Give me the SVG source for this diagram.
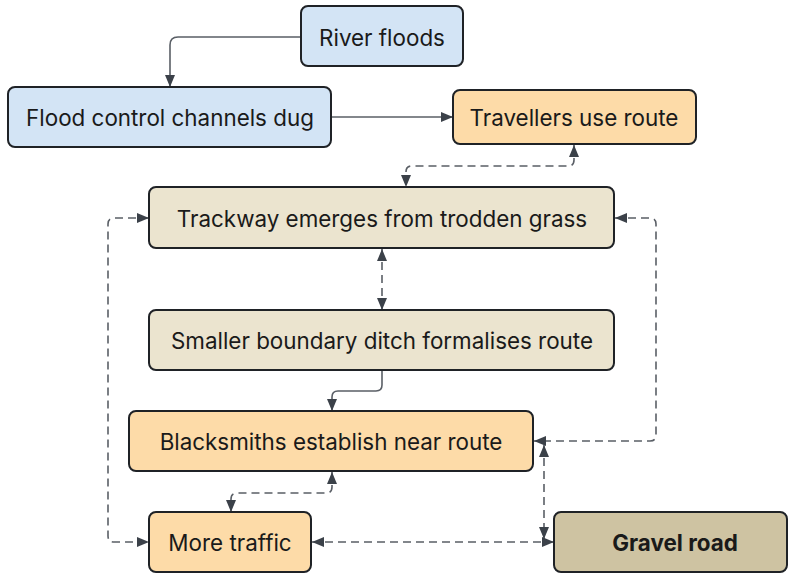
<svg xmlns="http://www.w3.org/2000/svg" width="789" height="574" viewBox="0 0 789 574">
<defs>
<style>
.box{stroke:#1f2226;stroke-width:2}
.blue{fill:#d3e4f5}
.orange{fill:#fddba8}
.beige{fill:#ebe4cf}
.tan{fill:#cec3a2}
.t{font-family:Inter,"Liberation Sans",sans-serif;font-size:22.4px;fill:#1a1a1a;text-anchor:middle;dominant-baseline:central}
.b{font-weight:700}
.solid{fill:none;stroke:#5a5f66;stroke-width:1.6}
.dash{fill:none;stroke:#5a5f66;stroke-width:1.6;stroke-dasharray:8 5}
</style>
<marker id="ar" viewBox="0 0 12 10" refX="12" refY="5" markerWidth="12" markerHeight="10" markerUnits="userSpaceOnUse" orient="auto-start-reverse">
<path d="M0,0 L12,5 L0,10 Z" fill="#3b4149"/>
</marker>
</defs>
<rect width="789" height="574" fill="#ffffff"/>
<g id="connectors">
<path class="solid" d="M301,37 H178 Q170,37 170,45 V87" marker-end="url(#ar)"/>
<path class="solid" d="M331,117 H453" marker-end="url(#ar)"/>
<path class="dash" d="M574,145 V160 Q574,166 568,166 H412 Q406,166 406,172 V187" marker-start="url(#ar)" marker-end="url(#ar)"/>
<path class="dash" d="M382,249 V310" marker-start="url(#ar)" marker-end="url(#ar)"/>
<path class="solid" d="M382,371 V385 Q382,391 376,391 H338 Q332,391 332,397 V411" marker-end="url(#ar)"/>
<path class="dash" d="M332,472 V487 Q332,493 326,493 H237 Q231,493 231,499 V512" marker-start="url(#ar)" marker-end="url(#ar)"/>
<path class="dash" d="M149,218 H114 Q108,218 108,224 V536 Q108,542 114,542 H149" marker-start="url(#ar)" marker-end="url(#ar)"/>
<path class="dash" d="M615,218 H650 Q656,218 656,224 V435 Q656,441 650,441 H534" marker-start="url(#ar)" marker-end="url(#ar)"/>
<path class="dash" d="M544,445 V539" marker-start="url(#ar)" marker-end="url(#ar)"/>
<path class="dash" d="M312,542 H554" marker-start="url(#ar)" marker-end="url(#ar)"/>
</g>
<g id="river-floods">
<rect class="box blue" x="301" y="6" width="162" height="60" rx="7"/>
<text class="t" x="382" y="37">River floods</text>
</g>
<g id="flood-control">
<rect class="box blue" x="8" y="87" width="323" height="60" rx="7"/>
<text class="t" x="170" y="117">Flood control channels dug</text>
</g>
<g id="travellers">
<rect class="box orange" x="453" y="90" width="243" height="54" rx="7"/>
<text class="t" x="574" y="117">Travellers use route</text>
</g>
<g id="trackway">
<rect class="box beige" x="149" y="187" width="465" height="61" rx="7"/>
<text class="t" x="382" y="218">Trackway emerges from trodden grass</text>
</g>
<g id="ditch">
<rect class="box beige" x="149" y="310" width="465" height="60" rx="7"/>
<text class="t" x="382" y="340">Smaller boundary ditch formalises route</text>
</g>
<g id="blacksmiths">
<rect class="box orange" x="129" y="411" width="404" height="60" rx="7"/>
<text class="t" x="331" y="441">Blacksmiths establish near route</text>
</g>
<g id="more-traffic">
<rect class="box orange" x="149" y="512" width="162" height="60" rx="7"/>
<text class="t" x="230" y="542">More traffic</text>
</g>
<g id="gravel-road">
<rect class="box tan" x="554" y="512" width="233" height="60" rx="7"/>
<text class="t b" x="675" y="542">Gravel road</text>
</g>
</svg>
